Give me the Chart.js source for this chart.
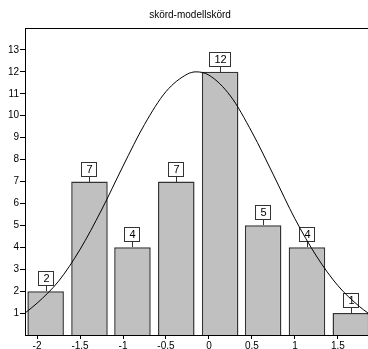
<!DOCTYPE html>
<html>
<head>
<meta charset="utf-8">
<script src="https://cdn.jsdelivr.net/npm/chart.js@4/dist/chart.umd.min.js"></script>
<style>
    html, body { margin: 0; padding: 0; background: #fff; overflow: hidden; }
    #wrap { width: 368px; height: 349px; position: relative; }
</style>
</head>
<body>
<div id="wrap"><canvas id="histChart"></canvas></div>
<script>
// --- Data ---
const chartTitle = 'skörd-modellskörd';
const binCenters = [-1.90, -1.39, -0.89, -0.38, 0.13, 0.63, 1.14, 1.65];
const binCounts = [2, 7, 4, 7, 12, 5, 4, 1];

// normal curve
const curveX = [-2.14, -2.0, -1.75, -1.5, -1.25, -1.0, -0.75, -0.5, -0.25, -0.15, 0, 0.25, 0.5, 0.75, 1.0, 1.25, 1.5, 1.75, 1.85];
const curveY = [1.0, 1.45, 2.45, 3.9, 5.7, 7.7, 9.6, 11.1, 11.9, 12.0, 11.85, 10.9, 9.25, 7.3, 5.3, 3.6, 2.25, 1.3, 1.0];

const xTicks = [-2, -1.5, -1, -0.5, 0, 0.5, 1, 1.5];
const yTicks = [1, 2, 3, 4, 5, 6, 7, 8, 9, 10, 11, 12, 13];

const FONT = 'Liberation Sans, Arial, sans-serif';

// Boxed count labels above bars + frame top line + title
const histPlugin = {
    id: 'histPlugin',
    afterDatasetDraw(chart, args) {
        if (args.meta.type !== 'bar') return;
        const ctx = chart.ctx;
        ctx.save();
        ctx.font = '11px ' + FONT;
        ctx.textAlign = 'center';
        ctx.textBaseline = 'middle';
        args.meta.data.forEach((bar, i) => {
            const txt = String(binCounts[i]);
            const w = Math.round(ctx.measureText(txt).width) + 10;
            const h = 15;
            const cx = Math.round(bar.x);
            const bottom = Math.round(bar.y) - 5;
            ctx.strokeStyle = '#333';
            ctx.lineWidth = 1;
            ctx.beginPath();
            ctx.moveTo(cx + 0.5, bottom);
            ctx.lineTo(cx + 0.5, Math.round(bar.y));
            ctx.stroke();
            ctx.fillStyle = '#fff';
            ctx.fillRect(cx - w / 2, bottom - h, w, h);
            ctx.strokeRect(cx - w / 2 + 0.5, bottom - h + 0.5, w - 1, h - 1);
            ctx.fillStyle = '#000';
            ctx.fillText(txt, cx + 0.5, bottom - h / 2 + 0.5);
        });
        ctx.restore();
    },
    afterDraw(chart) {
        const ctx = chart.ctx;
        const area = chart.chartArea;
        ctx.save();
        ctx.strokeStyle = '#000';
        ctx.lineWidth = 1;
        ctx.beginPath();
        ctx.moveTo(area.left, Math.round(area.top) + 0.5);
        ctx.lineTo(chart.width, Math.round(area.top) + 0.5);
        ctx.stroke();
        ctx.fillStyle = '#000';
        ctx.font = '10px ' + FONT;
        ctx.textAlign = 'center';
        ctx.textBaseline = 'middle';
        ctx.fillText(chartTitle, 190, 15);
        ctx.restore();
    }
};

const ctx = document.getElementById('histChart').getContext('2d');
new Chart(ctx, {
    data: {
        datasets: [
            {
                type: 'line',
                data: curveX.map((x, i) => ({ x: x, y: curveY[i] })),
                borderColor: '#000',
                borderWidth: 1,
                pointRadius: 0,
                cubicInterpolationMode: 'monotone',
                order: 0
            },
            {
                type: 'bar',
                data: binCenters.map((x, i) => ({ x: x, y: binCounts[i] })),
                backgroundColor: '#c0c0c0',
                borderColor: '#333',
                borderWidth: 1.5,
                borderSkipped: 'start',
                categoryPercentage: 1,
                barPercentage: 0.85,
                order: 1
            }
        ]
    },
    options: {
        responsive: true,
        maintainAspectRatio: false,
        animation: false,
        layout: { padding: { top: 28, left: 0, right: 0, bottom: 0 } },
        plugins: {
            legend: { display: false },
            tooltip: { enabled: false },
            title: { display: false }
        },
        scales: {
            x: {
                type: 'linear',
                offset: false,
                min: -2.14,
                max: 1.85,
                afterBuildTicks: (scale) => { scale.ticks = xTicks.map(v => ({ value: v })); },
                afterFit: (scale) => { scale.height = 14; },
                ticks: {
                    color: '#000',
                    font: { family: FONT, size: 10 },
                    padding: 1,
                    maxRotation: 0,
                    autoSkip: false,
                    callback: (v) => String(v)
                },
                grid: { offset: false, drawOnChartArea: false, drawTicks: true, tickLength: 4, color: '#000' },
                border: { display: true, color: '#000', width: 1 }
            },
            y: {
                min: 0,
                max: 14,
                afterBuildTicks: (scale) => { scale.ticks = yTicks.map(v => ({ value: v })); },
                afterFit: (scale) => { scale.width = 25; },
                ticks: {
                    color: '#000',
                    font: { family: FONT, size: 10 },
                    padding: 1
                },
                grid: { drawOnChartArea: false, drawTicks: true, tickLength: 5, color: '#000' },
                border: { display: true, color: '#000', width: 1 }
            }
        }
    },
    plugins: [histPlugin]
});
</script>
</body>
</html>
